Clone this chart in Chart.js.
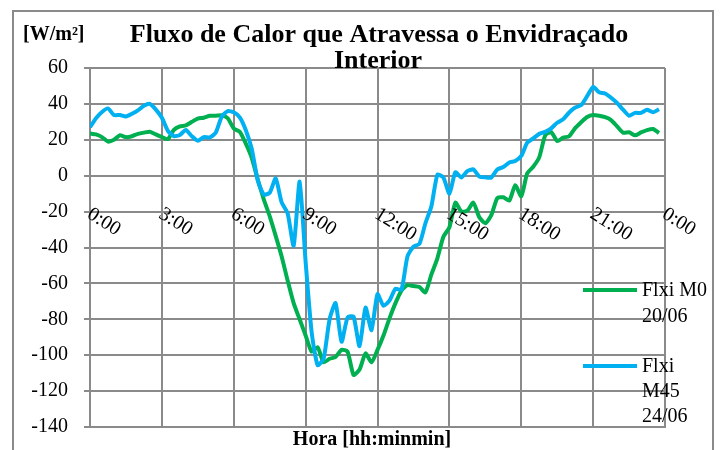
<!DOCTYPE html>
<html>
<head>
<meta charset="utf-8">
<script src="https://cdn.jsdelivr.net/npm/chart.js@4.4.1/dist/chart.umd.min.js"></script>
<style>
  body { margin: 0; background: #fff; }
  #wrap { width: 723px; height: 450px; }
</style>
</head>
<body>
<div id="wrap"><canvas id="myChart" width="723" height="450"></canvas></div>
<script>
// Heat flux through the inner glazing, read every 15 min (0:00 .. 23:45)
const tickLabels = ["0:00", "3:00", "6:00", "9:00", "12:00", "15:00", "18:00", "21:00", "0:00"];
const yTicks = [60, 40, 20, 0, -20, -40, -60, -80, -100, -120, -140];

const m0Values = [
  23.5, 23, 21.5, 19, 20, 22.5, 21.5, 22, 23.3, 24, 24.5, 23,
  21.5, 20.4, 25.5, 27.5, 28, 30, 31.8, 32.3, 33.4, 33.4, 33.6, 32,
  26.3, 24.5, 18, 10, -2, -13, -22.5, -33.5, -45, -58.5, -71, -80,
  -89, -98, -95.6, -104, -102, -101, -97, -98, -111, -108, -99, -104,
  -97, -89, -79.5, -71, -64, -61, -61.5, -62, -65, -55, -46, -34,
  -28.8, -15, -20, -19.5, -15, -23.2, -26.5, -22, -12.5, -12, -13.9, -5.3,
  -11.5, 1.3, 5, 10.2, 22.5, 24.3, 19.3, 21.2, 22, 26.5, 29.8, 32.7,
  33.8, 33.4, 32.6, 31, 27.5, 24, 24.2, 22.5, 24.1, 25.4, 26, 23.8
];
const m45Values = [
  27, 32, 35.5, 37.5, 33.8, 33.8, 33, 34.5, 36.4, 39, 40, 36.8,
  32.3, 25, 22, 22.7, 25.5, 22, 19.5, 21.5, 21.3, 24, 33, 36,
  35.3, 32.5, 25.5, 15, -2.5, -10.5, -9.5, -1.5, -14.9, -21, -39, -3.3,
  -48, -87, -105.5, -102, -80, -71, -92.5, -79, -78.5, -95, -73.5, -86,
  -66, -72.5, -69.6, -63, -63.5, -45, -39.5, -38, -26.5, -17, 0.5, -1,
  -10, 1.9, -1, 2.5, 3.5, -0.5, -0.9, -1, 3.5, 4.8, 7.4, 8.2,
  11, 18.4, 20.8, 23.3, 24.4, 26.4, 29.5, 31.5, 35.2, 38, 39.3, 44.3,
  49.5, 46.5, 45.8, 43.4, 40.5, 36.8, 33.4, 35, 35, 36.7, 35.3, 37
];

// hour of each reading
const hours = [];
for (let i = 0; i < m0Values.length; i++) hours.push(i / 4);

const greenColor = '#00B050';
const blueColor = '#00B0F0';
const gridColor = '#8a8a8a';
const serif = "'Liberation Serif', 'Times New Roman', serif";

// titles, rotated hour labels and legend drawn on top of the chart
const textPlugin = {
  id: 'textPlugin',
  afterDraw(chart) {
    const ctx = chart.ctx;
    const xs = chart.scales.x;
    ctx.save();
    // outer frame
    ctx.strokeStyle = gridColor;
    ctx.lineWidth = 2;
    ctx.strokeRect(13, 11, 700, 460);

    ctx.fillStyle = '#000';
    ctx.textBaseline = 'alphabetic';
    ctx.font = 'bold 20px ' + serif;
    ctx.textAlign = 'left';
    ctx.fillText('[W/m²]', 23, 40);

    ctx.font = 'bold 26px ' + serif;
    ctx.textAlign = 'center';
    ctx.fillText('Fluxo de Calor que Atravessa o Envidraçado', 379, 42);
    ctx.fillText('Interior', 378, 68);

    ctx.font = 'bold 20px ' + serif;
    ctx.fillText('Hora [hh:minmin]', 372, 445);

    // hour labels, tilted down to the right
    ctx.font = '20px ' + serif;
    ctx.textAlign = 'left';
    ctx.textBaseline = 'top';
    tickLabels.forEach(function (lab, i) {
      const px = xs.getPixelForValue(i * 3);
      ctx.save();
      ctx.translate(px + 4, 204);
      ctx.rotate(32 * Math.PI / 180);
      ctx.fillText(lab, 0, 0);
      ctx.restore();
    });

    // legend
    ctx.textBaseline = 'middle';
    ctx.lineWidth = 4;
    ctx.strokeStyle = greenColor;
    ctx.beginPath(); ctx.moveTo(583, 290); ctx.lineTo(637, 290); ctx.stroke();
    ctx.fillText('Flxi M0', 642, 291);
    ctx.fillText('20/06', 642, 317);
    ctx.strokeStyle = blueColor;
    ctx.beginPath(); ctx.moveTo(583, 366); ctx.lineTo(637, 366); ctx.stroke();
    ctx.fillText('Flxi', 642, 367);
    ctx.fillText('M45', 642, 392);
    ctx.fillText('24/06', 642, 417);
    ctx.restore();
  }
};

const ctx = document.getElementById('myChart').getContext('2d');
const myChart = new Chart(ctx, {
  type: 'line',
  data: {
    datasets: [{
      label: 'Flxi M45 24/06',
      data: m45Values.map((v, i) => ({ x: hours[i], y: v })),
      borderColor: blueColor,
      borderWidth: 4,
      pointRadius: 0,
      tension: 0.2
    }, {
      label: 'Flxi M0 20/06',
      data: m0Values.map((v, i) => ({ x: hours[i], y: v })),
      borderColor: greenColor,
      borderWidth: 4,
      pointRadius: 0,
      tension: 0.2
    }]
  },
  options: {
    responsive: false,
    animation: false,
    layout: { padding: { top: 68, right: 58, bottom: 23, left: 0 } },
    scales: {
      x: {
        type: 'linear',
        min: 0,
        max: 24,
        ticks: { stepSize: 3, display: false },
        grid: { color: gridColor, lineWidth: 2, drawTicks: false },
        border: { color: gridColor, width: 2 },
        afterFit: function (s) { s.height = 0; }
      },
      y: {
        min: -140,
        max: 60,
        afterBuildTicks: function (s) { s.ticks = yTicks.map(v => ({ value: v })); },
        ticks: { color: '#000', font: { family: serif, size: 20 }, padding: 16 },
        grid: { color: gridColor, lineWidth: 2, tickLength: 6 },
        border: { color: gridColor, width: 2 },
        afterFit: function (s) {
          s.width = 90;
          // layout is fixed by the padding above
          s.paddingTop = 0;
          s.paddingBottom = 0;
        }
      }
    },
    plugins: {
      legend: { display: false },
      tooltip: { enabled: false }
    }
  },
  plugins: [textPlugin]
});
</script>
</body>
</html>
